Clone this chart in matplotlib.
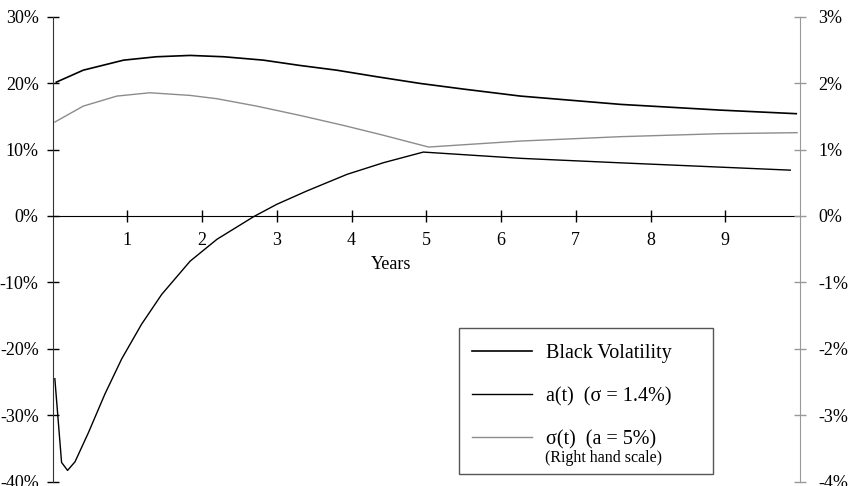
import matplotlib
matplotlib.use("Agg")
import matplotlib.pyplot as plt
from matplotlib.patches import Rectangle
from matplotlib.ticker import FuncFormatter

# Black volatility (left scale, %)
t_black = [0.05, 0.41, 0.95, 1.39, 1.84, 2.29, 2.82, 3.31, 3.80, 4.34, 4.92, 5.50, 6.26, 7.60, 8.93, 9.95]
black_vol = [20.15, 21.95, 23.46, 23.97, 24.17, 23.97, 23.46, 22.66, 21.95, 20.96, 19.95, 19.10, 18.05, 16.80, 15.94, 15.40]

# a(t) with sigma = 1.4% (left scale, %)
t_a = [0.03, 0.12, 0.20, 0.30, 0.48, 0.70, 0.925, 1.19, 1.46, 1.84, 2.20, 2.69, 3.00, 3.40, 3.94, 4.43, 4.96, 6.26, 7.60, 9.87]
a_t = [-24.5, -37.1, -38.3, -37.0, -32.6, -26.8, -21.5, -16.3, -11.8, -6.8, -3.5, -0.1, 1.76, 3.76, 6.27, 8.03, 9.62, 8.68, 8.00, 6.90]

# sigma(t) with a = 5% (right scale, %)
t_sig = [0.03, 0.41, 0.86, 1.30, 1.84, 2.20, 2.73, 3.31, 3.89, 4.43, 5.03, 6.26, 7.60, 8.93, 9.96]
sigma_t = [1.414, 1.654, 1.805, 1.855, 1.815, 1.765, 1.654, 1.514, 1.364, 1.214, 1.038, 1.128, 1.194, 1.239, 1.254]

x_ticks = [1, 2, 3, 4, 5, 6, 7, 8, 9]
left_ticks = [-40, -30, -20, -10, 0, 10, 20, 30]
right_ticks = [-4, -3, -2, -1, 0, 1, 2, 3]

plt.rcParams['font.family'] = ['Liberation Serif', 'DejaVu Serif']
W, H = 852, 486
GRAY = '#8c8c8c'

fig = plt.figure(figsize=(W / 100, H / 100), dpi=100)
ax = fig.add_axes([52.6 / W, 1 - 481.7 / H, (800 - 52.6) / W, (481.7 - 16.7) / H])
ax.set_xlim(0, 10)
ax.set_ylim(-40, 30)

ax.plot(t_black, black_vol, color='black', lw=1.2)
ax.plot(t_a, a_t, color='black', lw=1.0)

ax.spines['top'].set_visible(False)
ax.spines['right'].set_visible(False)
ax.spines['bottom'].set_position(('data', 0))
ax.spines['left'].set_color('#333333')
ax.spines['bottom'].set_color('black')

ax.set_xticks(x_ticks)
ax.set_yticks(left_ticks)
ax.yaxis.set_major_formatter(FuncFormatter(lambda v, p: f"{v:.0f}%"))
ax.tick_params(axis='x', direction='inout', length=8, width=1, labelsize=13, pad=7.5)
ax.tick_params(axis='y', direction='inout', length=8, width=1, labelsize=13, pad=6)
ax.text(4.53, -7.3, 'Years', ha='center', va='center', fontsize=13)

ax2 = ax.twinx()
ax2.set_ylim(-4, 3)
l_sig, = ax2.plot(t_sig, sigma_t, color=GRAY, lw=1.0)
for s in ['top', 'left', 'bottom']:
    ax2.spines[s].set_visible(False)
ax2.spines['right'].set_color('#999999')
ax2.set_yticks(right_ticks)
ax2.yaxis.set_major_formatter(FuncFormatter(lambda v, p: f"{v:.0f}%"))
ax2.tick_params(axis='y', direction='inout', length=8, width=1, colors='#999999',
                labelcolor='black', labelsize=13, pad=9)

# legend
handles = [ax.lines[0], ax.lines[1], l_sig]
labels = ['Black Volatility', 'a(t)  (σ = 1.4%)', 'σ(t)  (a = 5%)']
ax2.legend(handles, labels, loc='upper left', bbox_to_anchor=(472 / W, 1 - 343.5 / H),
           bbox_transform=fig.transFigure, frameon=False, fontsize=14.5,
           handlelength=3.0, handletextpad=0.65, labelspacing=1.2,
           borderpad=0, borderaxespad=0)
fig.patches.append(Rectangle((459 / W, 1 - 474 / H), 254 / W, 146 / H, transform=fig.transFigure,
                             fill=False, edgecolor='#555555', lw=1.0))
fig.text(545 / W, 1 - 458 / H, '(Right hand scale)', ha='left', va='center', fontsize=11.5)

fig.savefig('out.png', dpi=100)
